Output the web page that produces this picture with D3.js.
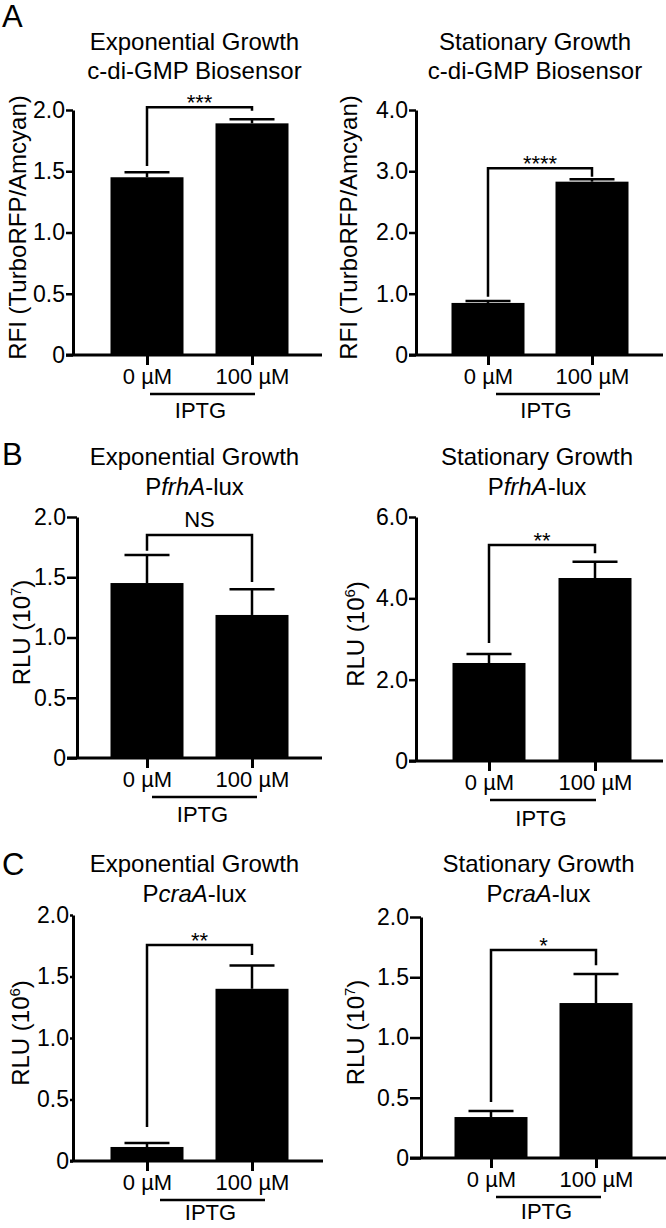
<!DOCTYPE html>
<html>
<head>
<meta charset="utf-8">
<script src="https://cdn.jsdelivr.net/npm/d3@7"></script>
<style>
  html, body { margin: 0; padding: 0; background: #fff; }
  svg { display: block; }
  text { font-family: "Liberation Sans", Arial, Helvetica, sans-serif; fill: #000; }
</style>
</head>
<body>
<svg id="chart" width="666" height="1228"></svg>
<script>
// ---------------- DATA ----------------
const categories = ["0 µM", "100 µM"];
const groupLabel = "IPTG";
const panelLetters = ["A", "B", "C"];
const titleLine1 = ["Exponential Growth", "Stationary Growth", "Exponential Growth", "Stationary Growth", "Exponential Growth", "Stationary Growth"];
// segments: [text, italic]
const titleLine2 = [
  [["c-di-GMP Biosensor", false]],
  [["c-di-GMP Biosensor", false]],
  [["P", false], ["frhA", true], ["-lux", false]],
  [["P", false], ["frhA", true], ["-lux", false]],
  [["P", false], ["craA", true], ["-lux", false]],
  [["P", false], ["craA", true], ["-lux", false]]
];
const yLabelBase = ["RFI (TurboRFP/Amcyan)", "RFI (TurboRFP/Amcyan)", "RLU (10", "RLU (10", "RLU (10", "RLU (10"];
const yLabelExp = [null, null, "7", "6", "6", "7"];
const yMax = [2.0, 4.0, 2.0, 6.0, 2.0, 2.0];
const yTicks = [
  [0, 0.5, 1.0, 1.5, 2.0],
  [0, 1.0, 2.0, 3.0, 4.0],
  [0, 0.5, 1.0, 1.5, 2.0],
  [0, 2.0, 4.0, 6.0],
  [0, 0.5, 1.0, 1.5, 2.0],
  [0, 0.5, 1.0, 1.5, 2.0]
];
const means = [
  [1.451, 1.891],
  [0.85, 2.83],
  [1.452, 1.187],
  [2.41, 4.50],
  [0.114, 1.40],
  [0.34, 1.286]
];
const errors = [
  [0.041, 0.033],
  [0.03, 0.04],
  [0.233, 0.213],
  [0.22, 0.40],
  [0.032, 0.19],
  [0.05, 0.241]
];
const sigLabels = ["***", "****", "NS", "**", "**", "*"];
const sigLevel = [2.023, 3.05, 1.85, 5.31, 1.756, 1.726];
const sigLegLeft = [1.543, 0.95, 1.72, 2.90, 0.276, 0.465];
const sigLegRight = [1.994, 2.91, 1.46, 5.11, 1.675, 1.60];

// ---------------- LAYOUT ----------------
const layout = [
  { axisX: 73,  yTop: 110, yBottom: 355,  xEnd: 322, c1: 147, c2: 252, tickLen: 7,  ylabX: 26,  t1: 50,  t2: 79,  iptgShift: 3,  iptgY: 418 },
  { axisX: 416, yTop: 110, yBottom: 355,  xEnd: 663, c1: 488, c2: 592, tickLen: 7,  ylabX: 357, t1: 50,  t2: 79,  iptgShift: 8,  iptgY: 418 },
  { axisX: 77,  yTop: 517, yBottom: 758,  xEnd: 322, c1: 147, c2: 252, tickLen: 10, ylabX: 30,  t1: 465, t2: 495, iptgShift: 5,  iptgY: 822 },
  { axisX: 416, yTop: 517, yBottom: 761,  xEnd: 663, c1: 489, c2: 595, tickLen: 7,  ylabX: 364, t1: 465, t2: 495, iptgShift: 1,  iptgY: 826 },
  { axisX: 73,  yTop: 915, yBottom: 1161, xEnd: 323, c1: 147, c2: 252, tickLen: 3,  ylabX: 29,  t1: 872, t2: 902, iptgShift: 13, iptgY: 1220 },
  { axisX: 421, yTop: 917, yBottom: 1158, xEnd: 666, c1: 491, c2: 596, tickLen: 11, ylabX: 364, t1: 872, t2: 902, iptgShift: 5,  iptgY: 1219 }
];
const letterPos = [{ x: 2, y: 27 }, { x: 2, y: 465 }, { x: 2, y: 875 }];
const barWidth = 73;
const capWidth = 45;

const svg = d3.select("#chart");

panelLetters.forEach((L, i) => {
  svg.append("text").attr("x", letterPos[i].x).attr("y", letterPos[i].y)
    .attr("font-size", 31).text(L);
});

layout.forEach((p, i) => {
  const g = svg.append("g");
  const y = d3.scaleLinear().domain([0, yMax[i]]).range([p.yBottom, p.yTop]);
  const x = d3.scalePoint().domain(categories).range([p.c1, p.c2]);
  const mid = (p.c1 + p.c2) / 2 - 5;

  // titles
  g.append("text").attr("x", mid).attr("y", p.t1).attr("text-anchor", "middle")
    .attr("font-size", 24).text(titleLine1[i]);
  const t2 = g.append("text").attr("x", mid).attr("y", p.t2).attr("text-anchor", "middle")
    .attr("font-size", 24);
  titleLine2[i].forEach(([s, it]) => {
    t2.append("tspan").attr("font-style", it ? "italic" : "normal").text(s);
  });

  // bars
  g.selectAll("rect.bar").data(categories).join("rect")
    .attr("x", d => x(d) - barWidth / 2)
    .attr("y", (d, j) => y(means[i][j]))
    .attr("width", barWidth)
    .attr("height", (d, j) => y(0) - y(means[i][j]))
    .attr("fill", "#000");

  // error bars (upper only)
  categories.forEach((c, j) => {
    const top = y(means[i][j] + errors[i][j]);
    g.append("line").attr("x1", x(c)).attr("x2", x(c))
      .attr("y1", y(means[i][j])).attr("y2", top)
      .attr("stroke", "#000").attr("stroke-width", 2.5);
    g.append("line").attr("x1", x(c) - capWidth / 2).attr("x2", x(c) + capWidth / 2)
      .attr("y1", top).attr("y2", top)
      .attr("stroke", "#000").attr("stroke-width", 2.5);
  });

  // y axis
  const yAxis = d3.axisLeft(y).tickValues(yTicks[i]).tickSize(p.tickLen).tickSizeOuter(0)
    .tickPadding(1).tickFormat(v => v === 0 ? "0" : d3.format(".1f")(v));
  const ya = g.append("g").attr("transform", `translate(${p.axisX},0)`).call(yAxis);
  ya.select(".domain").attr("stroke", "#000").attr("stroke-width", 3);
  ya.selectAll(".tick line").attr("stroke", "#000").attr("stroke-width", 2.5);
  ya.selectAll(".tick text").attr("font-size", 23).attr("fill", "#000");
  ya.attr("font-family", null).attr("font-size", null);

  // x axis
  g.append("line").attr("x1", p.axisX - p.tickLen).attr("x2", p.xEnd)
    .attr("y1", p.yBottom).attr("y2", p.yBottom)
    .attr("stroke", "#000").attr("stroke-width", 3);
  const xAxis = d3.axisBottom(x).tickSize(10).tickSizeOuter(0).tickPadding(3);
  const xa = g.append("g").attr("transform", `translate(0,${p.yBottom})`).call(xAxis);
  xa.select(".domain").remove();
  xa.selectAll(".tick line").attr("stroke", "#000").attr("stroke-width", 3);
  xa.selectAll(".tick text").attr("font-size", 22).attr("fill", "#000");
  xa.attr("font-family", null).attr("font-size", null);

  // IPTG group line + label
  const lx1 = p.c1 + p.iptgShift, lx2 = p.c2 + p.iptgShift;
  g.append("line").attr("x1", lx1).attr("x2", lx2)
    .attr("y1", p.yBottom + 39).attr("y2", p.yBottom + 39)
    .attr("stroke", "#000").attr("stroke-width", 2.5);
  g.append("text").attr("x", (lx1 + lx2) / 2 - 2).attr("y", p.iptgY)
    .attr("text-anchor", "middle").attr("font-size", 22).text(groupLabel);

  // y label
  const yl = g.append("text")
    .attr("transform", `translate(${p.ylabX},${(p.yTop + p.yBottom) / 2 - 5}) rotate(-90)`)
    .attr("text-anchor", "middle").attr("font-size", 24);
  yl.append("tspan").text(yLabelBase[i]);
  if (yLabelExp[i]) {
    yl.append("tspan").attr("font-size", 15).attr("dy", -9).text(yLabelExp[i]);
    yl.append("tspan").attr("dy", 9).text(")");
  }

  // significance bracket
  const bx1 = x(categories[0]), bx2 = x(categories[1]);
  const by = y(sigLevel[i]);
  const path = d3.path();
  path.moveTo(bx1, y(sigLegLeft[i]));
  path.lineTo(bx1, by);
  path.lineTo(bx2, by);
  path.lineTo(bx2, y(sigLegRight[i]));
  g.append("path").attr("d", path.toString()).attr("fill", "none")
    .attr("stroke", "#000").attr("stroke-width", 2.5);
  const isNS = sigLabels[i] === "NS";
  g.append("text").attr("x", (bx1 + bx2) / 2).attr("y", isNS ? by - 8 : by + 3)
    .attr("text-anchor", "middle").attr("font-size", 22).text(sigLabels[i]);
});
</script>
</body>
</html>
